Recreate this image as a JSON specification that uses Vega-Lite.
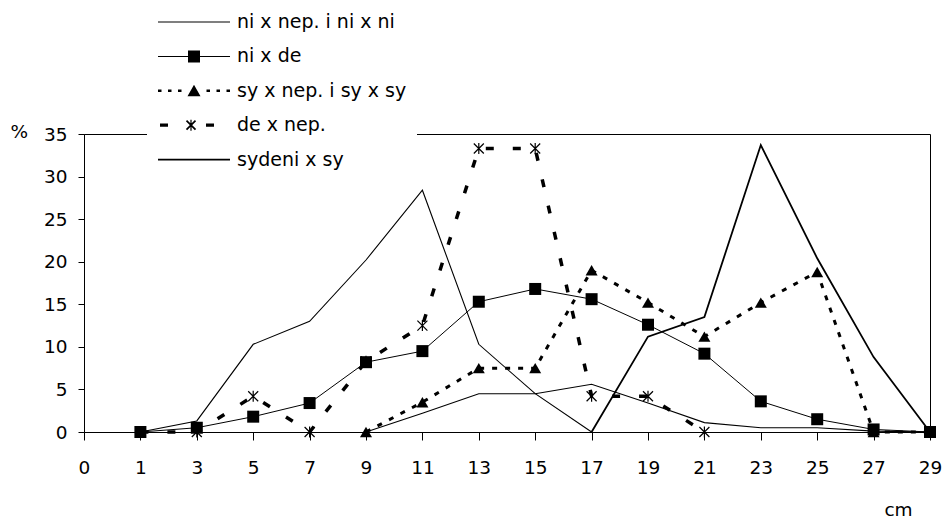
{
  "$schema": "https://vega.github.io/schema/vega-lite/v6.json",
  "width": 846,
  "height": 298,
  "autosize": {"type": "none"},
  "padding": {"left": 84, "top": 134, "right": 17, "bottom": 87},
  "background": "white",
  "config": {
    "font": "DejaVu Sans",
    "view": {"stroke": "black", "strokeWidth": 1},
    "axis": {
      "grid": false,
      "domainColor": "black",
      "domainWidth": 1,
      "tickColor": "black",
      "tickWidth": 1,
      "labelColor": "black",
      "titleColor": "black",
      "labelFont": "DejaVu Sans",
      "titleFont": "DejaVu Sans",
      "labelFontSize": 18.5,
      "titleFontSize": 18.5,
      "titleFontWeight": "normal"
    }
  },
  "data": {
    "values": [
      {"s": "ni x nep. i ni x ni", "g": "a", "x": "1", "y": 0},
      {"s": "ni x nep. i ni x ni", "g": "a", "x": "3", "y": 1.3},
      {"s": "ni x nep. i ni x ni", "g": "a", "x": "5", "y": 10.3},
      {"s": "ni x nep. i ni x ni", "g": "a", "x": "7", "y": 13},
      {"s": "ni x nep. i ni x ni", "g": "a", "x": "9", "y": 20.2},
      {"s": "ni x nep. i ni x ni", "g": "a", "x": "11", "y": 28.4},
      {"s": "ni x nep. i ni x ni", "g": "a", "x": "13", "y": 10.3},
      {"s": "ni x nep. i ni x ni", "g": "a", "x": "15", "y": 4.5},
      {"s": "ni x nep. i ni x ni", "g": "a", "x": "17", "y": 0},
      {"s": "ni x nep. i ni x ni", "g": "b", "x": "9", "y": 0},
      {"s": "ni x nep. i ni x ni", "g": "b", "x": "11", "y": 2.2},
      {"s": "ni x nep. i ni x ni", "g": "b", "x": "13", "y": 4.5},
      {"s": "ni x nep. i ni x ni", "g": "b", "x": "15", "y": 4.5},
      {"s": "ni x nep. i ni x ni", "g": "b", "x": "17", "y": 5.6},
      {"s": "ni x nep. i ni x ni", "g": "b", "x": "19", "y": 3.4},
      {"s": "ni x nep. i ni x ni", "g": "b", "x": "21", "y": 1.1},
      {"s": "ni x nep. i ni x ni", "g": "b", "x": "23", "y": 0.5},
      {"s": "ni x nep. i ni x ni", "g": "b", "x": "25", "y": 0.5},
      {"s": "ni x nep. i ni x ni", "g": "b", "x": "27", "y": 0.1},
      {"s": "ni x nep. i ni x ni", "g": "b", "x": "29", "y": 0},
      {"s": "ni x de", "g": "a", "x": "1", "y": 0},
      {"s": "ni x de", "g": "a", "x": "3", "y": 0.5},
      {"s": "ni x de", "g": "a", "x": "5", "y": 1.8},
      {"s": "ni x de", "g": "a", "x": "7", "y": 3.4},
      {"s": "ni x de", "g": "a", "x": "9", "y": 8.2},
      {"s": "ni x de", "g": "a", "x": "11", "y": 9.5},
      {"s": "ni x de", "g": "a", "x": "13", "y": 15.3},
      {"s": "ni x de", "g": "a", "x": "15", "y": 16.8},
      {"s": "ni x de", "g": "a", "x": "17", "y": 15.6},
      {"s": "ni x de", "g": "a", "x": "19", "y": 12.6},
      {"s": "ni x de", "g": "a", "x": "21", "y": 9.2},
      {"s": "ni x de", "g": "a", "x": "23", "y": 3.6},
      {"s": "ni x de", "g": "a", "x": "25", "y": 1.5},
      {"s": "ni x de", "g": "a", "x": "27", "y": 0.3},
      {"s": "ni x de", "g": "a", "x": "29", "y": 0},
      {"s": "sy x nep. i sy x sy", "g": "a", "x": "9", "y": 0},
      {"s": "sy x nep. i sy x sy", "g": "a", "x": "11", "y": 3.5},
      {"s": "sy x nep. i sy x sy", "g": "a", "x": "13", "y": 7.5},
      {"s": "sy x nep. i sy x sy", "g": "a", "x": "15", "y": 7.5},
      {"s": "sy x nep. i sy x sy", "g": "a", "x": "17", "y": 19},
      {"s": "sy x nep. i sy x sy", "g": "a", "x": "19", "y": 15.2},
      {"s": "sy x nep. i sy x sy", "g": "a", "x": "21", "y": 11.2},
      {"s": "sy x nep. i sy x sy", "g": "a", "x": "23", "y": 15.2},
      {"s": "sy x nep. i sy x sy", "g": "a", "x": "25", "y": 18.8},
      {"s": "sy x nep. i sy x sy", "g": "a", "x": "27", "y": 0},
      {"s": "sy x nep. i sy x sy", "g": "a", "x": "29", "y": 0},
      {"s": "de x nep.", "g": "a", "x": "1", "y": 0},
      {"s": "de x nep.", "g": "a", "x": "3", "y": 0},
      {"s": "de x nep.", "g": "a", "x": "5", "y": 4.2},
      {"s": "de x nep.", "g": "a", "x": "7", "y": 0},
      {"s": "de x nep.", "g": "a", "x": "9", "y": 8.3},
      {"s": "de x nep.", "g": "a", "x": "11", "y": 12.5},
      {"s": "de x nep.", "g": "a", "x": "13", "y": 33.3},
      {"s": "de x nep.", "g": "a", "x": "15", "y": 33.3},
      {"s": "de x nep.", "g": "a", "x": "17", "y": 4.2},
      {"s": "de x nep.", "g": "a", "x": "19", "y": 4.2},
      {"s": "de x nep.", "g": "a", "x": "21", "y": 0},
      {"s": "sydeni x sy", "g": "a", "x": "17", "y": 0},
      {"s": "sydeni x sy", "g": "a", "x": "19", "y": 11.2},
      {"s": "sydeni x sy", "g": "a", "x": "21", "y": 13.5},
      {"s": "sydeni x sy", "g": "a", "x": "23", "y": 33.7},
      {"s": "sydeni x sy", "g": "a", "x": "25", "y": 20.4},
      {"s": "sydeni x sy", "g": "a", "x": "27", "y": 8.8},
      {"s": "sydeni x sy", "g": "a", "x": "29", "y": 0}
    ]
  },
  "encoding": {
    "x": {
      "field": "x",
      "type": "ordinal",
      "scale": {"type": "point", "padding": 0, "domain": ["0", "1", "3", "5", "7", "9", "11", "13", "15", "17", "19", "21", "23", "25", "27", "29"]},
      "axis": {
        "title": "cm",
        "titleX": 814,
        "titleY": 83,
        "titleAlign": "center",
        "titleBaseline": "alphabetic",
        "labelAngle": 0,
        "tickSize": 8,
        "labelPadding": 18,
        "encode": {"ticks": {"update": {"y": {"value": -8}}}}
      }
    },
    "y": {
      "field": "y",
      "type": "quantitative",
      "scale": {"domain": [0, 35], "nice": false, "zero": true},
      "axis": {
        "values": [0, 5, 10, 15, 20, 25, 30, 35],
        "title": "%",
        "titleAngle": 0,
        "titleX": -74,
        "titleY": -3,
        "titleAlign": "left",
        "titleBaseline": "middle",
        "tickSize": 6,
        "labelPadding": 11,
        "encode": {"ticks": {"update": {"x": {"value": 7}}}}
      }
    }
  },
  "layer": [
    {
      "transform": [{"filter": "datum.s == 'ni x nep. i ni x ni'"}],
      "mark": {"type": "line", "color": "black", "strokeWidth": 1.1},
      "encoding": {"detail": {"field": "g"}, "order": {"value": null}}
    },
    {
      "transform": [{"filter": "datum.s == 'sydeni x sy'"}],
      "mark": {"type": "line", "color": "black", "strokeWidth": 1.8},
      "encoding": {"order": {"value": null}}
    },
    {
      "transform": [{"filter": "datum.s == 'ni x de'"}],
      "mark": {"type": "line", "color": "black", "strokeWidth": 1},
      "encoding": {"order": {"value": null}}
    },
    {
      "transform": [{"filter": "datum.s == 'sy x nep. i sy x sy'"}],
      "mark": {"type": "line", "color": "black", "strokeWidth": 3, "strokeDash": [5, 8]},
      "encoding": {"order": {"value": null}}
    },
    {
      "transform": [{"filter": "datum.s == 'de x nep.'"}],
      "mark": {"type": "line", "color": "black", "strokeWidth": 3.5, "strokeDash": [8, 19]},
      "encoding": {"order": {"value": null}}
    },
    {
      "transform": [{"filter": "datum.s == 'ni x de'"}],
      "mark": {"type": "point", "shape": "square", "size": 144, "filled": true, "color": "black", "opacity": 1, "strokeWidth": 0}
    },
    {
      "transform": [{"filter": "datum.s == 'sy x nep. i sy x sy'"}],
      "mark": {"type": "point", "shape": "triangle-up", "size": 144, "filled": true, "color": "black", "opacity": 1, "strokeWidth": 0}
    },
    {
      "transform": [{"filter": "datum.s == 'de x nep.'"}],
      "mark": {"type": "point", "shape": "M-1,-1L1,1M-1,1L1,-1M0,-1.1V1.1", "size": 100, "filled": false, "color": "black", "opacity": 1, "strokeWidth": 1.2}
    },
    {
      "transform": [{"filter": "datum.y < -100"}],
      "mark": {"type": "point", "filled": true, "color": "black", "opacity": 1},
      "encoding": {
        "shape": {
          "field": "s",
          "type": "nominal",
          "scale": {
            "domain": ["ni x nep. i ni x ni", "ni x de", "sy x nep. i sy x sy", "de x nep.", "sydeni x sy"],
            "range": [
              "M-3.6,-0.05H3.6V0.05H-3.6Z",
              "M-3.6,-0.05H3.6V0.05H-3.6Z M-0.6,-0.6H0.6V0.6H-0.6Z",
              "M-3.6,-0.13H-3.25V0.13H-3.6Z M-2.6,-0.13H-2.25V0.13H-2.6Z M-1.6,-0.13H-1.25V0.13H-1.6Z M1.25,-0.13H1.6V0.13H1.25Z M2.25,-0.13H2.6V0.13H2.25Z M3.25,-0.13H3.6V0.13H3.25Z M0,-0.6L0.65,0.55H-0.65Z",
              "M-3.4,-0.16H-2.6V0.16H-3.4Z M1.2,-0.16H2.0V0.16H1.2Z M-0.69,-0.51L0.21,0.39L0.09,0.51L-0.81,-0.39Z M-0.81,0.39L0.09,-0.51L0.21,-0.39L-0.69,0.51Z M-0.36,-0.55H-0.24V0.55H-0.36Z",
              "M-3.6,-0.09H3.6V0.09H-3.6Z"
            ]
          },
          "legend": {
            "orient": "none",
            "direction": "vertical",
            "legendX": 63,
            "legendY": -132,
            "padding": 10,
            "fillColor": "white",
            "title": null,
            "labelFont": "DejaVu Sans",
            "labelFontSize": 19,
            "labelColor": "black",
            "labelLimit": 400,
            "symbolSize": 400,
            "symbolOffset": 27,
            "labelOffset": 33,
            "rowPadding": 14.4,
            "symbolFillColor": "black",
            "symbolStrokeColor": "black",
            "symbolStrokeWidth": 0,
            "symbolOpacity": 1,
            "encode": {
              "symbols": {
                "update": {
                  "fill": {"value": "black"},
                  "strokeWidth": {"value": 0},
                  "opacity": {"value": 1}
                }
              }
            }
          }
        }
      }
    }
  ]
}
